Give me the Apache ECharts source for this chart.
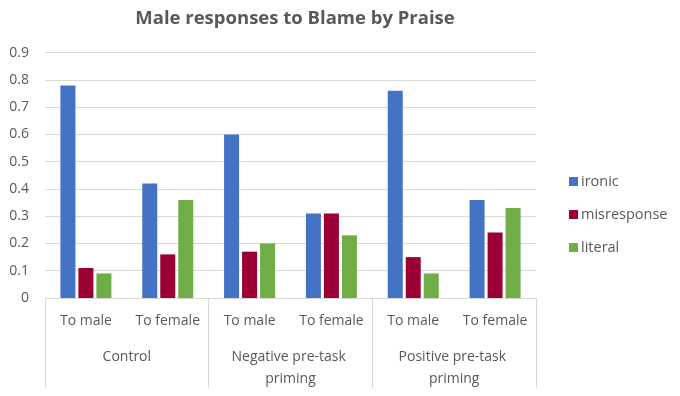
<!DOCTYPE html>
<html>
<head>
<meta charset="utf-8">
<script src="https://cdn.jsdelivr.net/npm/echarts@6/dist/echarts.min.js"></script>
<style>html,body{margin:0;padding:0;background:#fff;}#c{width:680px;height:396px;}</style>
</head>
<body>
<div id="c"></div>
<script>
const titleText = 'Male responses to Blame by Praise';
const subCategories = ['To male', 'To female', 'To male', 'To female', 'To male', 'To female'];
const groups = ['Control', 'Negative pre-task priming', 'Positive pre-task priming'];
const seriesNames = ['ironic', 'misresponse', 'literal'];
const ironic = [0.78, 0.42, 0.60, 0.31, 0.76, 0.36];
const misresponse = [0.11, 0.16, 0.17, 0.31, 0.15, 0.24];
const literal = [0.09, 0.36, 0.20, 0.23, 0.09, 0.33];
const yTicks = [0, 0.1, 0.2, 0.3, 0.4, 0.5, 0.6, 0.7, 0.8, 0.9];

const colors = ['#4472C4', '#9B0034', '#70AD47'];
const font = 'Open Sans';
const textColor = '#595959';
const chart = echarts.init(document.getElementById('c'), null, {renderer: 'canvas'});
const values = [ironic, misresponse, literal];
chart.setOption({
  animation: false,
  color: colors,
  title: {
    text: titleText, left: 290, top: 4, textAlign: 'center',
    textStyle: {fontFamily: font, fontSize: 18.5, fontWeight: 'bold', color: textColor}
  },
  legend: {
    orient: 'vertical', left: 564, top: 169, itemGap: 18,
    itemWidth: 9, itemHeight: 9, icon: 'rect',
    textStyle: {fontFamily: font, fontSize: 14.5, color: textColor, padding: [0, 0, 0, -2]},
    data: seriesNames
  },
  grid: {left: 45, right: 144, top: 52.7, bottom: 98, containLabel: false},
  xAxis: [
    {
      type: 'category', data: subCategories, position: 'bottom',
      axisLine: {show: true, lineStyle: {color: '#D9D9D9'}},
      axisTick: {show: false},
      axisLabel: {interval: 0, margin: 16, fontFamily: font, fontSize: 14, color: textColor}
    },
    {
      type: 'category', data: groups, position: 'bottom',
      axisLine: {show: false},
      axisTick: {show: true, length: 90, lineStyle: {color: '#D9D9D9'}},
      axisLabel: {interval: 0, margin: 48, fontFamily: font, fontSize: 14, color: textColor,
        width: 130, overflow: 'break', lineHeight: 22}
    }
  ],
  yAxis: {
    type: 'value', min: 0, max: 0.9, interval: 0.1,
    axisLine: {show: false}, axisTick: {show: false},
    splitLine: {lineStyle: {color: '#D9D9D9'}},
    axisLabel: {margin: 16, fontFamily: font, fontSize: 14, color: textColor,
      formatter: v => { const t = yTicks.find(x => Math.abs(x - v) < 1e-9); return t === undefined ? '' : String(t); }}
  },
  series: seriesNames.map((n, i) => ({
    name: n, type: 'bar', xAxisIndex: 0, data: values[i],
    barWidth: 15, barGap: '20%', barCategoryGap: '36%'
  }))
});
</script>
</body>
</html>
